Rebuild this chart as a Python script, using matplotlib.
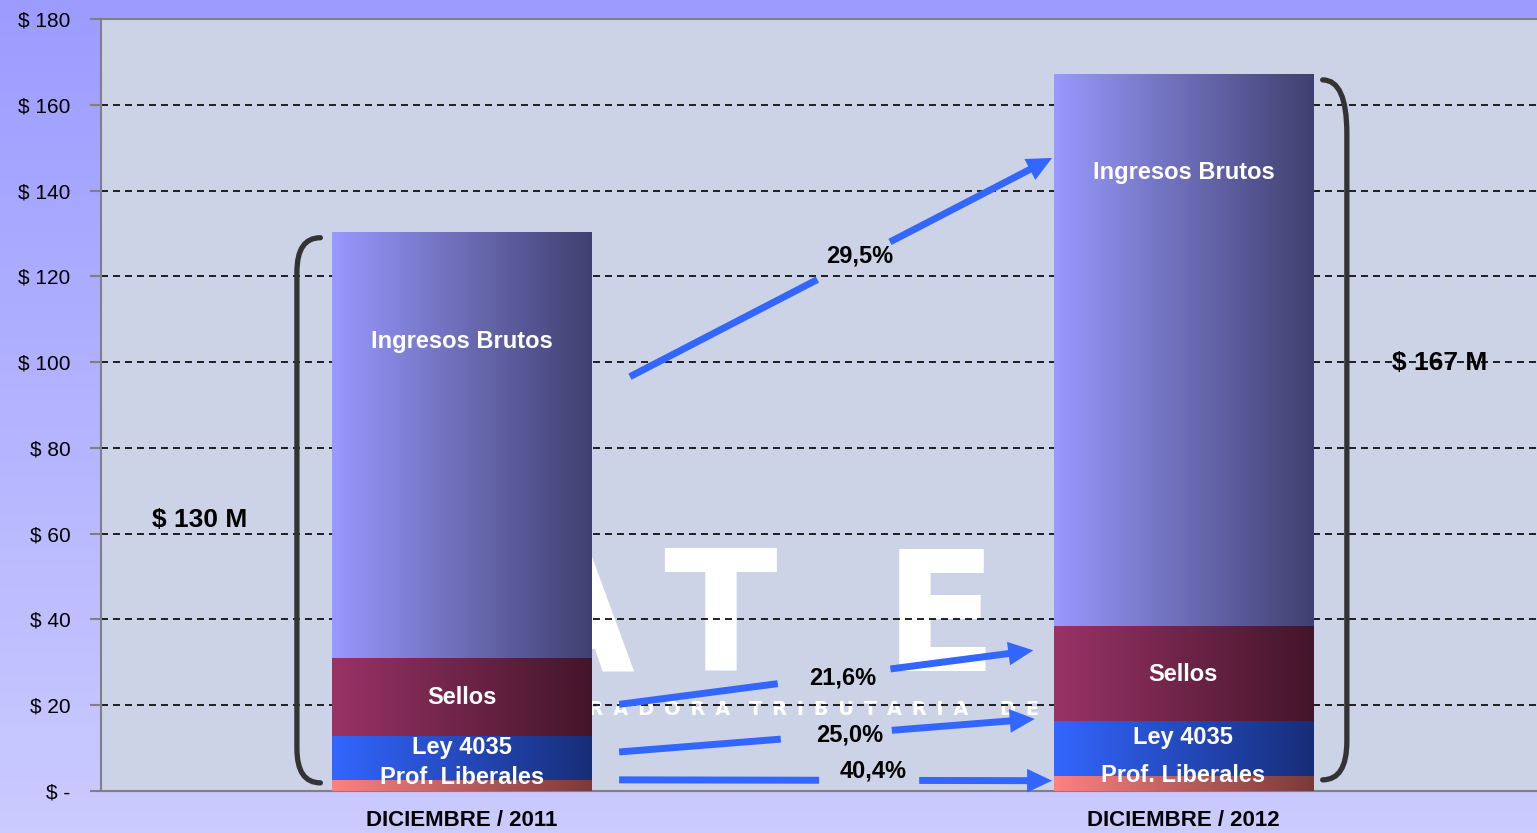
import numpy as np
import matplotlib
matplotlib.use('Agg')
import matplotlib.pyplot as plt
from matplotlib.colors import LinearSegmentedColormap
from matplotlib.path import Path
from matplotlib.patches import PathPatch

plt.rcParams['font.family'] = ['Liberation Sans', 'DejaVu Sans']

# data (millones de $)
periodos = ['DICIEMBRE / 2011', 'DICIEMBRE / 2012']
prof_liberales = [2.5, 3.5]
ley_4035 = [10.4, 12.8]
sellos = [18.2, 22.1]
ingresos_brutos = [99.1, 128.6]
segmentos = ['Prof. Liberales', 'Ley 4035', 'Sellos', 'Ingresos Brutos']
variaciones = ['40,4%', '25,0%', '21,6%', '29,5%']
totales = ['$ 130 M', '$ 167 M']
yticks = [0, 20, 40, 60, 80, 100, 120, 140, 160, 180]
ytick_labels = ['$ -', '$ 20', '$ 40', '$ 60', '$ 80', '$ 100', '$ 120', '$ 140', '$ 160', '$ 180']

# colours (left -> right gradient for every segment)
grad_colors = [('#ff8080', '#7a3a3a'),
               ('#3366ff', '#162d78'),
               ('#993366', '#43152a'),
               ('#9999ff', '#404070')]
blue = '#3366ff'

fig = plt.figure(figsize=(15.37, 8.33), dpi=100)

# figure background gradient
bg = fig.add_axes([0, 0, 1, 1], zorder=-10)
bg.imshow(np.linspace(0, 1, 256).reshape(-1, 1), aspect='auto', extent=[0, 1, 0, 1],
          cmap=LinearSegmentedColormap.from_list('bg', ['#9c9cff', '#cbcbff']))
bg.axis('off')

ax = fig.add_axes([101 / 1537, 42 / 833, 1 - 101 / 1537, 772 / 833])
ax.set_facecolor('#cdd3e6')

x = np.arange(len(periodos))
width = 0.36

# watermark (logo behind the bars)
for letra, lx in zip('ATER', [0.150, 0.358, 0.663, 0.967]):
    ax.text(lx, 28.0, letra, color='white', fontsize=120, fontweight='bold',
            family='DejaVu Sans', ha='center', va='baseline', zorder=0.2)
sep = '\u2002'
wm_words = [('ADMINISTRADORA', 0.372, 'right'), ('TRIBUTARIA', 0.398, 'left'),
            ('DE', 0.746, 'left')]
for w, wx, ha in wm_words:
    ax.text(wx, 17.7, sep.join(w), color='white', fontsize=14, fontweight='bold',
            family='DejaVu Sans', ha=ha, va='baseline', zorder=0.2)

# stacked bars with horizontal gradients
bottom = np.zeros(len(periodos))
grad = np.linspace(0, 1, 256).reshape(1, -1)
for vals, (c1, c2) in zip([prof_liberales, ley_4035, sellos, ingresos_brutos], grad_colors):
    bars = ax.bar(x, vals, width, bottom=bottom, color='none', edgecolor='none', zorder=3)
    cmap = LinearSegmentedColormap.from_list('seg', [c1, c2])
    for b in bars:
        ax.imshow(grad, cmap=cmap, aspect='auto', interpolation='bilinear', zorder=3,
                  extent=[b.get_x(), b.get_x() + b.get_width(), b.get_y(), b.get_y() + b.get_height()])
    bottom += np.array(vals)

# segment labels
label_y = {'Prof. Liberales': [3.2, 3.6], 'Ley 4035': [10.2, 12.4],
           'Sellos': [21.7, 27.2], 'Ingresos Brutos': [104.8, 144.2]}
for seg in segmentos:
    for xi, yi in zip(x, label_y[seg]):
        ax.text(xi, yi, seg, color='white', fontsize=17, fontweight='bold',
                ha='center', va='center', zorder=6)


# growth arrows, interrupted where the label sits
def growth_arrow(p0, p1, t1, t2):
    p0 = np.array(p0)
    p1 = np.array(p1)
    a = p0 + (p1 - p0) * t1
    b = p0 + (p1 - p0) * t2
    ax.plot([p0[0], a[0]], [p0[1], a[1]], color=blue, lw=5, solid_capstyle='butt', zorder=4)
    ax.annotate('', xy=p1, xytext=b, zorder=4,
                arrowprops=dict(width=5, headwidth=17, headlength=18, shrink=0,
                                facecolor=blue, edgecolor='none'))


arrow_geom = [((0.218, 2.6), (0.818, 2.4), 0.462, 0.693, (0.570, 4.7)),
              ((0.218, 9.1), (0.794, 16.8), 0.389, 0.656, (0.538, 13.0)),
              ((0.218, 20.2), (0.792, 32.8), 0.383, 0.655, (0.528, 26.3)),
              ((0.233, 96.6), (0.818, 147.6), 0.444, 0.616, (0.552, 124.8))]
for (p0, p1, t1, t2, lp), txt in zip(arrow_geom, variaciones):
    growth_arrow(p0, p1, t1, t2)
    ax.text(lp[0], lp[1], txt, fontsize=17, fontweight='bold', ha='center', va='center', zorder=6)


# brackets round the totals
def bracket(xv, xend, ytop, ybot, hook_top, hook_bot):
    verts = [(xend, ytop), (xv, ytop), (xv, ytop - hook_top), (xv, ybot + hook_bot),
             (xv, ybot), (xend, ybot)]
    codes = [Path.MOVETO, Path.CURVE3, Path.CURVE3, Path.LINETO, Path.CURVE3, Path.CURVE3]
    ax.add_patch(PathPatch(Path(verts, codes), fill=False, lw=3.8, edgecolor='#333333',
                           capstyle='round', zorder=4))


tot = np.array(prof_liberales) + np.array(ley_4035) + np.array(sellos) + np.array(ingresos_brutos)
bracket(-0.2285, -0.196, tot[0] - 1.2, 1.9, 8, 8)
bracket(1.2265, 1.193, tot[1] - 1.2, 2.6, 12.5, 9)

ax.text(-0.364, 63.3, totales[0], fontsize=19, fontweight='bold', ha='center', va='center', zorder=6)
ax.text(1.355, 99.9, totales[1], fontsize=19, fontweight='bold', ha='center', va='center', zorder=0.3)

# axes styling
ax.set_xlim(-0.5, 1.49)
ax.set_ylim(0, 180)
ax.set_yticks(yticks)
ax.set_yticklabels(ytick_labels, fontsize=15)
ax.set_xticks(x)
ax.set_xticklabels(periodos, fontsize=16, fontweight='bold')
ax.tick_params(axis='y', length=8, width=1.5, color='#808080', pad=14)
ax.tick_params(axis='x', length=0, pad=14)
ax.set_axisbelow(True)
ax.yaxis.grid(True, color='black', linestyle=(0, (4.2, 3)), linewidth=1.2, zorder=0.5)
for s in ['left', 'bottom', 'top']:
    ax.spines[s].set_color('#808080')
    ax.spines[s].set_linewidth(1.5)
ax.spines['right'].set_visible(False)

fig.savefig('out.png', dpi=100)
